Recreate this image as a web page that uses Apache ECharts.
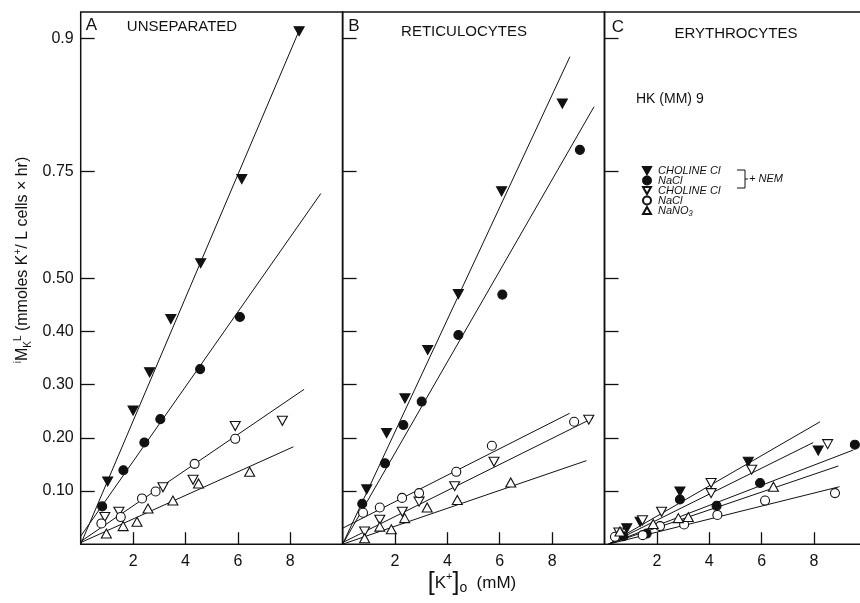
<!DOCTYPE html>
<html>
<head>
<meta charset="utf-8">
<script src="https://cdn.jsdelivr.net/npm/echarts@6/dist/echarts.min.js"></script>
<style>
  html, body { margin: 0; padding: 0; background: #fff; }
  #main { width: 860px; height: 603px; }
</style>
</head>
<body>
<div id="main"></div>
<script>
// tick positions (the printed axis is not linear above 0.5, labels follow the figure)
var xTickValues = [2, 4, 6, 8];
var yTickValues = [0.1, 0.2, 0.3, 0.4, 0.5, 0.70, 0.95];
var yTickLabels = ['0.10', '0.20', '0.30', '0.40', '0.50', '0.75', '0.9'];

var panelTitles = ['UNSEPARATED', 'RETICULOCYTES', 'ERYTHROCYTES'];
var panelLetters = ['A', 'B', 'C'];
var seriesNames = ['CHOLINE Cl +NEM', 'NaCl +NEM', 'CHOLINE Cl', 'NaCl', 'NaNO₃'];

// A - unseparated
var aCholNem = [[1.03, 0.118], [2.00, 0.251], [2.63, 0.323], [3.44, 0.423], [4.58, 0.528], [6.15, 0.686], [8.34, 0.964]];
var aNaClNem = [[0.82, 0.071], [1.63, 0.139], [2.43, 0.191], [3.04, 0.235], [4.56, 0.329], [6.08, 0.427]];
var aChol = [[0.92, 0.051], [1.46, 0.061], [3.14, 0.107], [4.29, 0.121], [5.90, 0.222], [7.70, 0.232]];
var aNaCl = [[0.79, 0.039], [1.53, 0.051], [2.34, 0.086], [2.86, 0.099], [4.35, 0.151], [5.90, 0.198]];
var aNaNO3 = [[0.98, 0.020], [1.62, 0.034], [2.15, 0.042], [2.57, 0.067], [3.52, 0.082], [4.50, 0.114], [6.45, 0.136]];
var aLines = [
  [[0, 0], [8.34, 0.965]],
  [[0, 0.015], [9.17, 0.659]],
  [[0, 0.005], [8.53, 0.291]],
  [[0, 0.003], [8.12, 0.183]]
];

// B - reticulocytes
var bCholNem = [[0.92, 0.103], [1.68, 0.209], [2.38, 0.274], [3.25, 0.365], [4.42, 0.470], [6.07, 0.663], [8.39, 0.828]];
var bNaClNem = [[0.75, 0.076], [1.62, 0.152], [2.32, 0.224], [3.02, 0.268], [4.42, 0.393], [6.10, 0.469], [9.06, 0.741]];
var bChol = [[0.84, 0.024], [1.42, 0.046], [2.28, 0.061], [2.92, 0.080], [4.28, 0.109], [5.78, 0.155], [9.40, 0.234]];
var bNaCl = [[0.78, 0.059], [1.42, 0.069], [2.27, 0.087], [2.92, 0.096], [4.34, 0.136], [5.70, 0.185], [8.84, 0.230]];
var bNaNO3 = [[0.84, 0.011], [1.42, 0.033], [1.86, 0.028], [2.37, 0.049], [3.23, 0.069], [4.38, 0.083], [6.42, 0.116]];
var bLines = [
  [[0, 0], [8.68, 0.916]],
  [[0, 0], [9.60, 0.822]],
  [[0, 0.003], [9.56, 0.237]],
  [[0, 0.03], [8.67, 0.246]],
  [[0, 0], [9.31, 0.157]]
];

// C - erythrocytes
var cCholNem = [[0.85, 0.030], [1.36, 0.042], [2.88, 0.099], [5.49, 0.155], [8.16, 0.176]];
var cNaClNem = [[0.72, 0.015], [1.61, 0.020], [2.88, 0.084], [4.28, 0.072], [5.94, 0.115], [9.56, 0.187]];
var cChol = [[0.55, 0.022], [1.45, 0.045], [2.18, 0.061], [4.07, 0.096], [4.07, 0.115], [5.62, 0.140], [8.52, 0.188]];
var cNaCl = [[0.40, 0.014], [1.46, 0.017], [2.12, 0.034], [3.04, 0.037], [4.31, 0.055], [6.13, 0.082], [8.80, 0.096]];
var cNaNO3 = [[0.59, 0.024], [1.86, 0.038], [2.82, 0.049], [3.20, 0.051], [6.45, 0.108]];
var cLines = [
  [[0.15, 0], [8.23, 0.230]],
  [[0.15, 0], [7.97, 0.191]],
  [[0.15, 0], [9.50, 0.177]],
  [[0.15, 0], [8.93, 0.147]],
  [[0.15, 0], [8.97, 0.108]]
];

var panels = [
  { points: [aCholNem, aNaClNem, aChol, aNaCl, aNaNO3], lines: aLines },
  { points: [bCholNem, bNaClNem, bChol, bNaCl, bNaNO3], lines: bLines },
  { points: [cCholNem, cNaClNem, cChol, cNaCl, cNaNO3], lines: cLines }
];

var FONT = '"Liberation Sans", Arial, sans-serif';
var INK = '#111';
var DOWN = 'path://M0,0L10,0L5,9Z';
var UP = 'path://M5,0L10,9L0,9Z';

// marker look for each of the five kinds
var markers = [
  { symbol: DOWN, size: [10, 9], fill: INK },
  { symbol: 'circle', size: 9, fill: INK },
  { symbol: DOWN, size: [10, 9], fill: '#fff' },
  { symbol: 'circle', size: 9, fill: '#fff' },
  { symbol: UP, size: [10, 9], fill: '#fff' }
];

var gridLefts = [80.7, 342.6, 604.5];
var grids = [], xAxes = [], yAxes = [], series = [];

gridLefts.forEach(function (left, i) {
  grids.push({
    left: left, top: 12, width: 261.9, height: 532.2,
    show: true, borderColor: INK, borderWidth: 1.5,
    outerBoundsMode: 'none'
  });
  xAxes.push({
    gridIndex: i, type: 'value', min: 0, max: 10,
    axisLine: { show: false },
    splitLine: { show: false },
    axisTick: { show: true, inside: true, length: 12, customValues: xTickValues,
      lineStyle: { color: INK, width: 1.3 } },
    axisLabel: { customValues: xTickValues, fontSize: 16, color: INK, margin: 9, fontFamily: FONT }
  });
  yAxes.push({
    gridIndex: i, type: 'value', min: 0, max: 1.0,
    axisLine: { show: false },
    splitLine: { show: false },
    axisTick: { show: true, inside: true, length: 14, customValues: yTickValues,
      lineStyle: { color: INK, width: 1.3 } },
    axisLabel: {
      show: i === 0, customValues: yTickValues, fontSize: 16, color: INK, margin: 7, fontFamily: FONT,
      formatter: function (v) {
        var best = 0;
        yTickValues.forEach(function (t, k) {
          if (Math.abs(t - v) < Math.abs(yTickValues[best] - v)) best = k;
        });
        return yTickLabels[best];
      }
    }
  });

  panels[i].lines.forEach(function (ln) {
    series.push({
      type: 'line', xAxisIndex: i, yAxisIndex: i, data: ln,
      symbol: 'none', silent: true, z: 2,
      lineStyle: { color: INK, width: 1 }
    });
  });

  panels[i].points.forEach(function (pts, k) {
    var m = markers[k];
    series.push({
      type: 'scatter', name: seriesNames[k], xAxisIndex: i, yAxisIndex: i, data: pts,
      symbol: m.symbol, symbolSize: m.size, z: 5,
      itemStyle: { color: m.fill, borderColor: INK, borderWidth: 1.1, opacity: 1 },
      emphasis: { disabled: true }
    });
  });
});

var graphics = [];
var titleX = [182, 464, 736], titleY = [27, 32, 34];
var letterX = [91.5, 354, 618], letterY = [25, 26, 27];
for (var i = 0; i < 3; i++) {
  graphics.push({
    type: 'text', x: titleX[i], y: titleY[i],
    style: { text: panelTitles[i], font: '15px ' + FONT, fill: INK, align: 'center', verticalAlign: 'middle' }
  });
  graphics.push({
    type: 'text', x: letterX[i], y: letterY[i],
    style: { text: panelLetters[i], font: '17px ' + FONT, fill: INK, align: 'center', verticalAlign: 'middle' }
  });
}

// y axis title, rotated
graphics.push({
  type: 'text', x: 23, y: 260, rotation: Math.PI / 2,
  style: {
    text: '{i|i}M{sub|K}{sup|L} (mmoles K{sup|+}/ L cells × hr)',
    font: '16px ' + FONT, fill: INK, align: 'center', verticalAlign: 'middle', lineHeight: 20,
    rich: {
      i: { fontSize: 10, lineHeight: 10, verticalAlign: 'top', fontFamily: FONT },
      sub: { fontSize: 10, lineHeight: 10, verticalAlign: 'bottom', fontFamily: FONT },
      sup: { fontSize: 10, lineHeight: 10, verticalAlign: 'top', fontFamily: FONT }
    }
  }
});

// x axis title
graphics.push({
  type: 'text', x: 472, y: 583,
  style: {
    text: '{br|[}K{sup|+}{br|]}{o|o}  (mM)',
    font: '17px ' + FONT, fill: INK, align: 'center', verticalAlign: 'middle', lineHeight: 24,
    rich: {
      br: { fontSize: 25, lineHeight: 24, fontFamily: FONT },
      sup: { fontSize: 11, lineHeight: 11, verticalAlign: 'top', fontFamily: FONT },
      o: { fontSize: 14, lineHeight: 14, verticalAlign: 'bottom', fontFamily: FONT }
    }
  }
});

// panel C annotation
graphics.push({
  type: 'text', x: 636, y: 99,
  style: { text: 'HK (MM) 9', font: '14px ' + FONT, fill: INK, align: 'left', verticalAlign: 'middle' }
});
graphics.push({
  type: 'polyline',
  shape: { points: [[737, 170], [745, 170], [745, 188], [737, 188]] },
  style: { stroke: INK, lineWidth: 1, fill: null }
});
graphics.push({
  type: 'line', shape: { x1: 745, y1: 179, x2: 748, y2: 179 },
  style: { stroke: INK, lineWidth: 1 }
});
graphics.push({
  type: 'text', x: 749, y: 179,
  style: { text: '+ NEM', font: 'italic 11px ' + FONT, fill: INK, align: 'left', verticalAlign: 'middle' }
});

var chart = echarts.init(document.getElementById('main'), null, { renderer: 'canvas' });

var option = {
  backgroundColor: '#fff',
  animation: false,
  grid: grids,
  xAxis: xAxes,
  yAxis: yAxes,
  legend: {
    data: seriesNames,
    orient: 'vertical',
    left: 637, top: 160,
    itemWidth: 8, itemHeight: 8, itemGap: -1,
    selectedMode: false,
    textStyle: { fontSize: 11, fontStyle: 'italic', color: INK, fontFamily: FONT, lineHeight: 8, padding: [0, 0, 0, 2] },
    formatter: function (name) { return name.replace(' +NEM', ''); }
  },
  graphic: graphics,
  series: series
};

chart.setOption(option);
</script>
</body>
</html>
